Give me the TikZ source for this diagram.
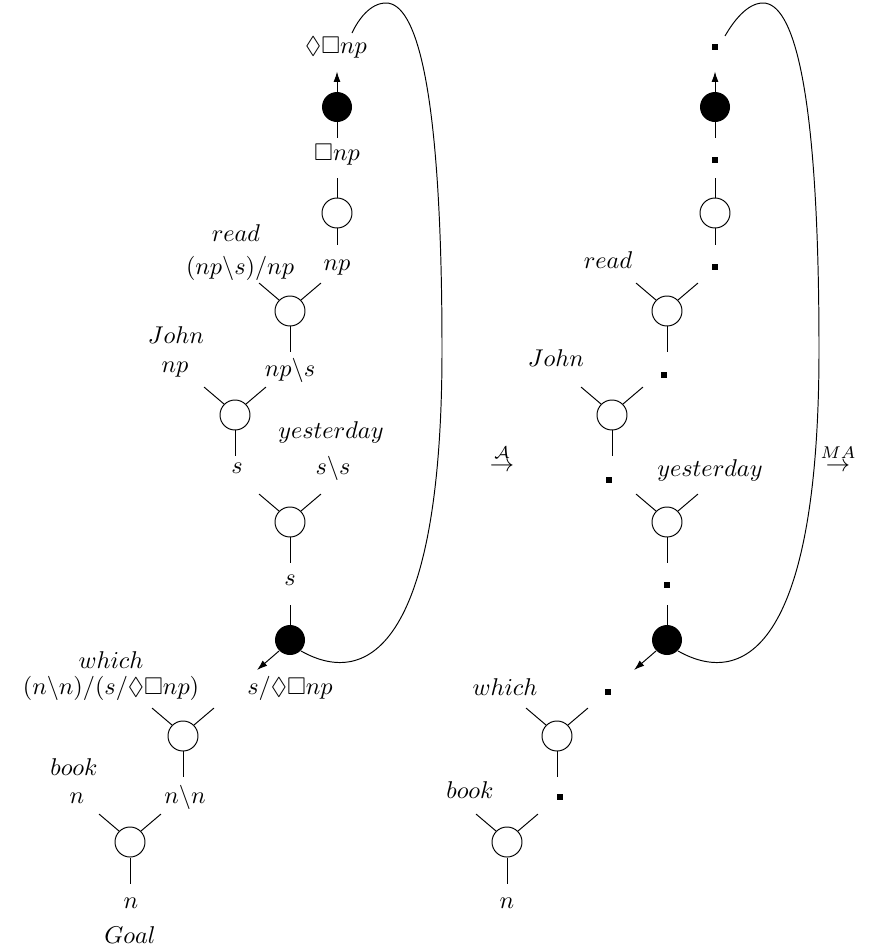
\documentclass[tikz,border=0pt]{standalone}
\usepackage{amssymb}
\usetikzlibrary{arrows.meta}
\tikzset{
  link/.style={circle, draw, minimum size=0.435cm, inner sep=0pt},
  cut/.style={circle, fill=black, minimum size=0.435cm, inner sep=0pt},
  blank/.style={fill=black, inner sep=0pt, minimum size=2.2pt},
  tip/.style={-{Latex[length=1.5mm,width=1mm]}}
}
% three legs of a link: two premises above, one conclusion below
\newcommand{\legs}[1]{%
  \draw (#1.north west) -- ++(-20,-17);
  \draw (#1.north east) -- ++(20,-17);
  \draw (#1.south) -- ++(0,26);}
\begin{document}
\begin{tikzpicture}[x=0.0145cm, y=-0.0145cm]
  \useasboundingbox (0,0) rectangle (869,950);
  % proof net
  \node[cut] (b1) at (337,107) {};
  \node (f1) at (336,47) {$\Diamond\Box np$};
  \draw[tip] (b1.north) -- ++(0,-20);
  \draw (b1.south) -- ++(0,16);
  \node (f2) at (337,155) {$\Box np$};
  \node[link] (c1) at (337,213) {};
  \draw (c1.north) -- ++(0,-20);
  \draw (c1.south) -- ++(0,17);
  \node (f3) at (337,268) {$np$};
  \node[link] (c2) at (290,311) {}; \legs{c2}
  \node (w2) at (236,233) {$read$};
  \node (t2) at (240,268) {$(np\backslash s)/np$};
  \node (f4) at (290,370) {$np\backslash s$};
  \node[link] (c3) at (235,415) {}; \legs{c3}
  \node (w3) at (176,335) {$John$};
  \node (t3) at (175,370) {$np$};
  \node (f5) at (237,468) {$s$};
  \node[link] (c4) at (290,522) {}; \legs{c4}
  \node (w4) at (331,432) {$yesterday$};
  \node (t4) at (333,468) {$s\backslash s$};
  \node (f6) at (290,580) {$s$};
  \node[cut] (b2) at (290,640) {};
  \draw (b2.north) -- ++(0,-20);
  \draw[tip] (b2.south west) -- ++(-22,19);
  \node (f7) at (290,688) {$s/\Diamond\Box np$};
  \node[link] (c5) at (183,736) {}; \legs{c5}
  \node (w5) at (111,660) {$which$};
  \node (t5) at (111,688) {$(n\backslash n)/(s/\Diamond\Box np)$};
  \node (f8) at (185,797) {$n\backslash n$};
  \node[link] (c6) at (130,842) {}; \legs{c6}
  \node (w6) at (74,767) {$book$};
  \node (t6) at (77,798) {$n$};
  \node (f9) at (131,903) {$n$};
  \node (goal) at (130,935) {$Goal$};
  \draw (b2.south east) .. controls (370,690) and (442,640) .. (442,350)
    .. controls (442,80) and (415,3) .. (386,3) .. controls (370,3) and (358,20) .. (352,33);
  \node (arrA) at (502,458) {$\stackrel{\mathcal{A}}{\to}$};
  % same net, formulas erased
  \begin{scope}[shift={(377,0)}]
    \node[cut] (B1) at (338,107) {};
    \node[blank] (d1) at (338,47) {};
    \draw[tip] (B1.north) -- ++(0,-20);
    \draw (B1.south) -- ++(0,16);
    \node[blank] (d2) at (338,160) {};
    \node[link] (C1) at (338,213) {};
    \draw (C1.north) -- ++(0,-20);
    \draw (C1.south) -- ++(0,17);
    \node[blank] (d3) at (338,267) {};
    \node[link] (C2) at (290,311) {}; \legs{C2}
    \node (W2) at (231,260) {$read$};
    \node[blank] (d4) at (287,375) {};
    \node[link] (C3) at (235,415) {}; \legs{C3}
    \node (W3) at (179,358) {$John$};
    \node[blank] (d5) at (232,480) {};
    \node[link] (C4) at (290,522) {}; \legs{C4}
    \node (W4) at (333,470) {$yesterday$};
    \node[blank] (d6) at (290,585) {};
    \node[cut] (B2) at (290,640) {};
    \draw (B2.north) -- ++(0,-20);
    \draw[tip] (B2.south west) -- ++(-22,19);
    \node[blank] (d7) at (231,692) {};
    \node[link] (C5) at (180,736) {}; \legs{C5}
    \node (W5) at (128,687) {$which$};
    \node[blank] (d8) at (183,797) {};
    \node[link] (C6) at (130,842) {}; \legs{C6}
    \node (W6) at (93,790) {$book$};
    \node (F9) at (130,903) {$n$};
    \draw (B2.south east) .. controls (370,690) and (442,640) .. (442,350)
      .. controls (442,80) and (415,3) .. (386,3) .. controls (370,3) and (356,22) .. (348,36);
  \end{scope}
  \node (arrMA) at (838,458) {$\stackrel{MA}{\to}$};
\end{tikzpicture}
\end{document}
